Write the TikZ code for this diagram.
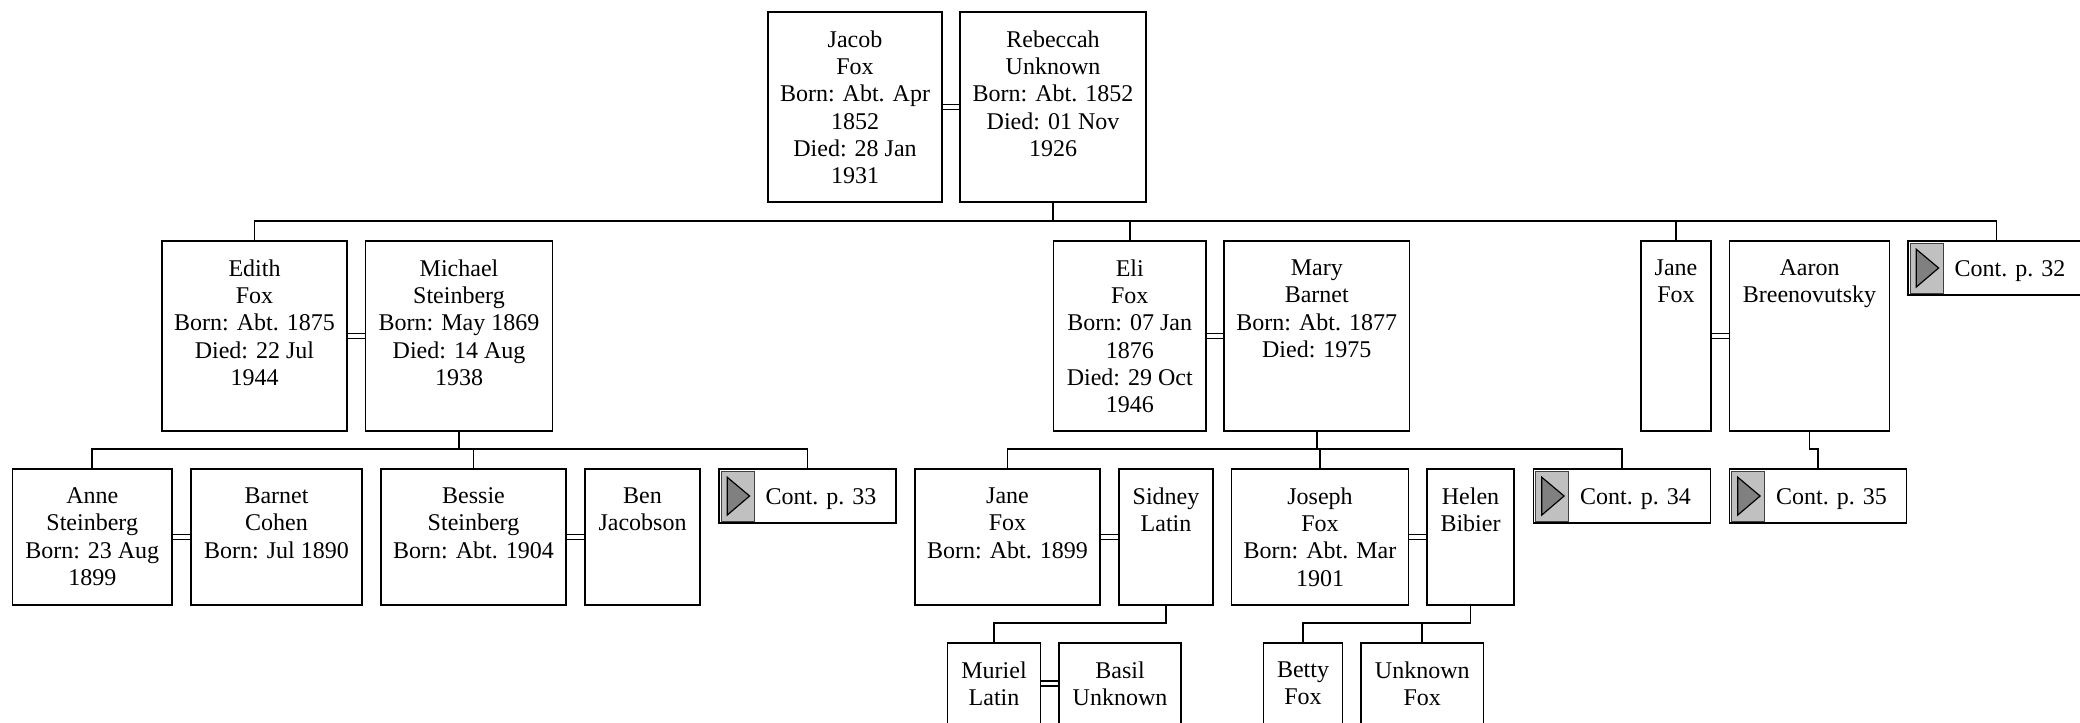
\documentclass[tikz,border=0pt]{standalone}
\usepackage{fontspec}
\setmainfont{Liberation Serif}
\definecolor{sqgrey}{HTML}{C0C0C0}
\definecolor{trigrey}{HTML}{808080}
\definecolor{sqedge}{HTML}{404040}
\tikzset{
  pbox/.style={draw, line width=0.85pt, anchor=north west, inner sep=0pt, outer sep=0pt, fill=white},
  ptext/.style={anchor=north, align=center, inner sep=0pt, font=\fontsize{12}{13.6}\selectfont},
  cbox/.style={draw, line width=0.85pt, anchor=north west, inner sep=0pt, outer sep=0pt, fill=white,
               minimum width=88.5pt, minimum height=27pt},
  ctext/.style={anchor=base, inner sep=0pt, font=\fontsize{12}{13.6}\selectfont},
  conn/.style={line width=0.85pt},
  marr/.style={double, double distance=1.6pt, line width=0.85pt, shorten <=0.42pt, shorten >=0.42pt},
}
\newcommand\famperson[6]{%
  \node[pbox, minimum width={(#3-#2)*0.5pt}, minimum height={(#5-#4)*0.5pt}] (#1) at (#2,#4) {};
  \node[ptext] (#1-t) at ([yshift=-9.25pt]#1.north) {#6};
}
\newcommand\famcont[4]{%
  \node[cbox] (#1) at (#2,#3) {};
  \draw[fill=sqgrey, draw=sqedge, line width=0.5pt] ([shift={(1pt,-1pt)}]#1.north west) rectangle ([shift={(17.6pt,1pt)}]#1.south west);
  \draw[fill=trigrey, line width=0.6pt] ([shift={(4.15pt,-4.15pt)}]#1.north west) -- ([shift={(4.15pt,4pt)}]#1.south west) -- ([shift={(15.3pt,0pt)}]#1.west) -- cycle;
  \node[ctext] (#1-t) at ([shift={(51pt,-17.5pt)}]#1.north west) {#4};
}
\begin{document}
\begin{tikzpicture}[x=0.5pt, y=-0.5pt]
\useasboundingbox (0,0) rectangle (2080,722);
\clip (0,0) rectangle (2080,722);
\fill[white] (0,0) rectangle (2080,722);
% row 1
\famperson{jacob}{768}{942}{12}{202}{Jacob\\Fox\\Born: Abt. Apr\\1852\\Died: 28 Jan\\1931}
\famperson{rebeccah}{960}{1146}{12}{202}{Rebeccah\\Unknown\\Born: Abt. 1852\\Died: 01 Nov\\1926}
% row 2
\famperson{edith}{162}{347}{241}{431}{Edith\\Fox\\Born: Abt. 1875\\Died: 22 Jul\\1944}
\famperson{michael}{365.5}{552.5}{241}{431}{Michael\\Steinberg\\Born: May 1869\\Died: 14 Aug\\1938}
\famperson{eli}{1053.5}{1206}{241}{431}{Eli\\Fox\\Born: 07 Jan\\1876\\Died: 29 Oct\\1946}
\famperson{mary}{1224}{1409.5}{241}{431}{Mary\\Barnet\\Born: Abt. 1877\\Died: 1975}
\famperson{janefox}{1641}{1711}{241}{431}{Jane\\Fox}
\famperson{aaron}{1729.5}{1889.5}{241}{431}{Aaron\\Breenovutsky}
\famcont{cont32}{1908}{241}{Cont. p. 32}
% row 3
\famperson{anne}{12.5}{172}{469}{605}{Anne\\Steinberg\\Born: 23 Aug\\1899}
\famperson{barnet}{191}{362}{469}{605}{Barnet\\Cohen\\Born: Jul 1890}
\famperson{bessie}{381}{566}{469}{605}{Bessie\\Steinberg\\Born: Abt. 1904}
\famperson{ben}{585}{700}{469}{605}{Ben\\Jacobson}
\famcont{cont33}{719}{469}{Cont. p. 33}
\famperson{jane2}{915}{1100}{469}{605}{Jane\\Fox\\Born: Abt. 1899}
\famperson{sidney}{1119}{1213}{469}{605}{Sidney\\Latin}
\famperson{joseph}{1231.5}{1408.5}{469}{605}{Joseph\\Fox\\Born: Abt. Mar\\1901}
\famperson{helen}{1427}{1514}{469}{605}{Helen\\Bibier}
\famcont{cont34}{1533.5}{469}{Cont. p. 34}
\famcont{cont35}{1729.5}{469}{Cont. p. 35}
% row 4
\famperson{muriel}{947.5}{1040.5}{643}{724}{Muriel\\Latin}
\famperson{basil}{1059}{1181}{643}{724}{Basil\\Unknown}
\famperson{betty}{1263.5}{1342.5}{643}{724}{Betty\\Fox}
\famperson{unknownfox}{1361}{1483.5}{643}{724}{Unknown\\Fox}
% buses
\coordinate (bus1) at (0,221);
\coordinate (bus2) at (0,449);
\coordinate (bus3) at (0,623);
% marriages
\draw[marr] (jacob.east) -- (rebeccah.west);
\draw[marr] (edith.east) -- (michael.west);
\draw[marr] (eli.east) -- (mary.west);
\draw[marr] (janefox.east) -- (aaron.west);
\draw[marr] (anne.east) -- (barnet.west);
\draw[marr] (bessie.east) -- (ben.west);
\draw[marr] (jane2.east) -- (sidney.west);
\draw[marr] (joseph.east) -- (helen.west);
\draw[marr] (muriel.east) -- (basil.west);
% descent lines
\draw[conn] (rebeccah.south) -- (rebeccah.south |- bus1);
\draw[conn] (edith.north) |- (bus1 -| cont32.north) -- (cont32.north);
\draw[conn] (eli.north) -- (eli.north |- bus1);
\draw[conn] (janefox.north) -- (janefox.north |- bus1);
\draw[conn] (michael.south) -- (michael.south |- bus2);
\draw[conn] (anne.north) |- (bus2 -| cont33.north) -- (cont33.north);
\draw[conn] (bessie.north) -- (bessie.north |- bus2);
\draw[conn] (mary.south) -- (mary.south |- bus2);
\draw[conn] (jane2.north) |- (bus2 -| cont34.north) -- (cont34.north);
\draw[conn] (joseph.north) -- (joseph.north |- bus2);
\draw[conn] (aaron.south) -- (aaron.south |- bus2) -| (cont35.north);
\draw[conn] (sidney.south) -- (sidney.south |- bus3) -| (muriel.north);
\draw[conn] (helen.south) -- (helen.south |- bus3) -| (betty.north);
\draw[conn] (unknownfox.north) -- (unknownfox.north |- bus3);
\end{tikzpicture}
\end{document}
